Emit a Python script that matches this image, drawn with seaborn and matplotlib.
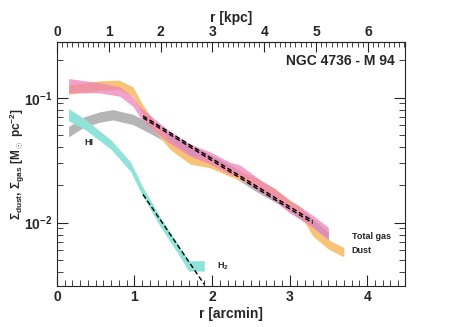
import matplotlib
matplotlib.use("Agg")
import matplotlib.pyplot as plt
import numpy as np
import pandas as pd
import seaborn as sns
from matplotlib.ticker import MultipleLocator, LogLocator, NullFormatter

# Radial profiles of NGC 4736 (r in arcmin, surface densities in Msun/pc^2)
dust_r = [0.15, 0.55, 0.8, 0.98, 1.11, 1.25, 1.46, 1.72, 1.97, 2.2, 2.5, 2.8,
          3.0, 3.15, 3.3, 3.5, 3.7]
dust_mid = [0.116, 0.125, 0.127, 0.112, 0.080, 0.060, 0.042, 0.032, 0.030,
            0.026, 0.022, 0.0174, 0.0140, 0.0122, 0.0085, 0.0067, 0.0058]
dust_err = [1.09] * 17

gas_r = [0.15, 0.55, 0.81, 0.98, 1.07, 1.3, 1.46, 1.72, 1.97, 2.23, 2.36,
         2.62, 2.8, 3.0, 3.15, 3.3, 3.5]
gas_mid = [0.125, 0.120, 0.112, 0.093, 0.077, 0.0575, 0.048, 0.038, 0.033,
           0.0272, 0.0258, 0.0197, 0.0168, 0.0134, 0.0118, 0.0102, 0.0082]
gas_err = [1.14, 1.1, 1.09, 1.09, 1.1, 1.12, 1.12, 1.12, 1.12, 1.12, 1.12,
           1.12, 1.12, 1.12, 1.12, 1.12, 1.12]

hi_r = [0.15, 0.35, 0.55, 0.72, 0.98, 1.2, 1.33, 1.72, 1.97, 2.3, 2.6, 2.9,
        3.2, 3.5]
hi_mid = [0.0535, 0.064, 0.070, 0.073, 0.067, 0.057, 0.0515, 0.038, 0.032,
          0.025, 0.019, 0.015, 0.011, 0.0076]
hi_err = [1.1] * 14

h2_r = [0.15, 0.35, 0.7, 0.95, 1.1, 1.33, 1.55, 1.7, 1.9]
h2_mid = [0.073, 0.062, 0.042, 0.028, 0.018, 0.0102, 0.0063, 0.0045, 0.0045]
h2_err = [1.12, 1.1, 1.09, 1.09, 1.09, 1.09, 1.09, 1.1, 1.1]

# exponential fits (dashed)
fit_r = [1.11, 3.3]
gas_fit = [0.0715, 0.0103]
dust_fit = [0.0690, 0.0099]
h2_fit_r = [1.11, 1.9]
h2_fit = [0.0168, 0.0032]

kpc_per_arcmin = 1.496

sns.set_style("ticks")
plt.rcParams["font.family"] = ["Liberation Sans", "DejaVu Sans"]
plt.rcParams["font.weight"] = "bold"
plt.rcParams["mathtext.fontset"] = "custom"
plt.rcParams["mathtext.rm"] = "Liberation Sans:bold"
plt.rcParams["mathtext.bf"] = "Liberation Sans:bold"
plt.rcParams["mathtext.it"] = "Liberation Sans:bold:italic"

fig = plt.figure(figsize=(4.63, 3.27), dpi=100)
ax = fig.add_axes([0.123, 0.125, 0.752, 0.747])


def band(r, mid, err, **kw):
    mid = np.array(mid)
    err = np.array(err)
    ax.fill_between(r, mid / err, mid * err, lw=0, **kw)


band(hi_r, hi_mid, hi_err, color="#b5b5b5")
band(h2_r, h2_mid, h2_err, color="#8fe3d8")
band(dust_r, dust_mid, dust_err, color="#f7c477")
band(gas_r, gas_mid, gas_err, color="#ec80b8", alpha=0.72)

fits = pd.DataFrame({
    "r": fit_r * 2 + h2_fit_r,
    "sigma": gas_fit + dust_fit + h2_fit,
    "fit": ["gas"] * 2 + ["dust"] * 2 + ["h2"] * 2,
})
sns.lineplot(data=fits, x="r", y="sigma", units="fit", estimator=None,
             color="black", lw=1.0, dashes=False, ax=ax, legend=False)
for line in ax.get_lines():
    line.set_dashes((3.5, 2))

ax.set_yscale("log")
ax.set_xlim(0, 4.49)
ax.set_ylim(0.0031, 0.28)
ax.set_xlabel("r [arcmin]", fontsize=10, fontweight="bold", labelpad=2)
ax.set_ylabel(r"$\Sigma_{\rm dust}$, $\Sigma_{\rm gas}$ [M$_\odot$ pc$^{-2}$]",
              fontsize=8.5, fontweight="bold")
ax.yaxis.set_label_coords(-0.085, 0.5)

ax.xaxis.set_major_locator(MultipleLocator(1))
ax.xaxis.set_minor_locator(MultipleLocator(0.1))
ax.yaxis.set_major_locator(LogLocator(base=10))
ax.yaxis.set_minor_locator(LogLocator(base=10, subs=np.arange(2, 10)))
ax.yaxis.set_minor_formatter(NullFormatter())
ax.tick_params(axis="both", which="major", direction="in", length=8, width=0.8,
               labelsize=10, right=True, top=False, pad=3)
ax.tick_params(axis="both", which="minor", direction="in", length=4, width=0.6,
               right=True, top=False)
for lab in ax.get_xticklabels() + ax.get_yticklabels():
    lab.set_fontweight("bold")

top = ax.secondary_xaxis("top", functions=(lambda x: x * kpc_per_arcmin,
                                           lambda x: x / kpc_per_arcmin))
top.yaxis.set_visible(False)
top.xaxis.set_major_locator(MultipleLocator(1))
top.xaxis.set_minor_locator(MultipleLocator(0.1))
top.tick_params(which="major", direction="in", length=7, width=0.8,
                labelsize=10, pad=2)
top.tick_params(which="minor", direction="in", length=3.5, width=0.6)
top.set_xlabel("r [kpc]", fontsize=10, fontweight="bold", labelpad=2)
for lab in top.get_xticklabels():
    lab.set_fontweight("bold")

for s in ax.spines.values():
    s.set_linewidth(0.8)

ax.text(0.97, 0.92, "NGC 4736 - M 94", transform=ax.transAxes, ha="right",
        va="center", fontsize=10, fontweight="bold")
ax.text(0.35, 0.044, "HI", fontsize=6.5, fontweight="bold", va="center")
ax.text(2.06, 0.0045, r"H$_2$", fontsize=6.5, fontweight="bold", va="center")
ax.text(3.8, 0.0078, "Total gas", fontsize=6.5, fontweight="bold", va="center")
ax.text(3.8, 0.0060, "Dust", fontsize=6.5, fontweight="bold", va="center")

fig.savefig("out.png", dpi=100, facecolor="white")
